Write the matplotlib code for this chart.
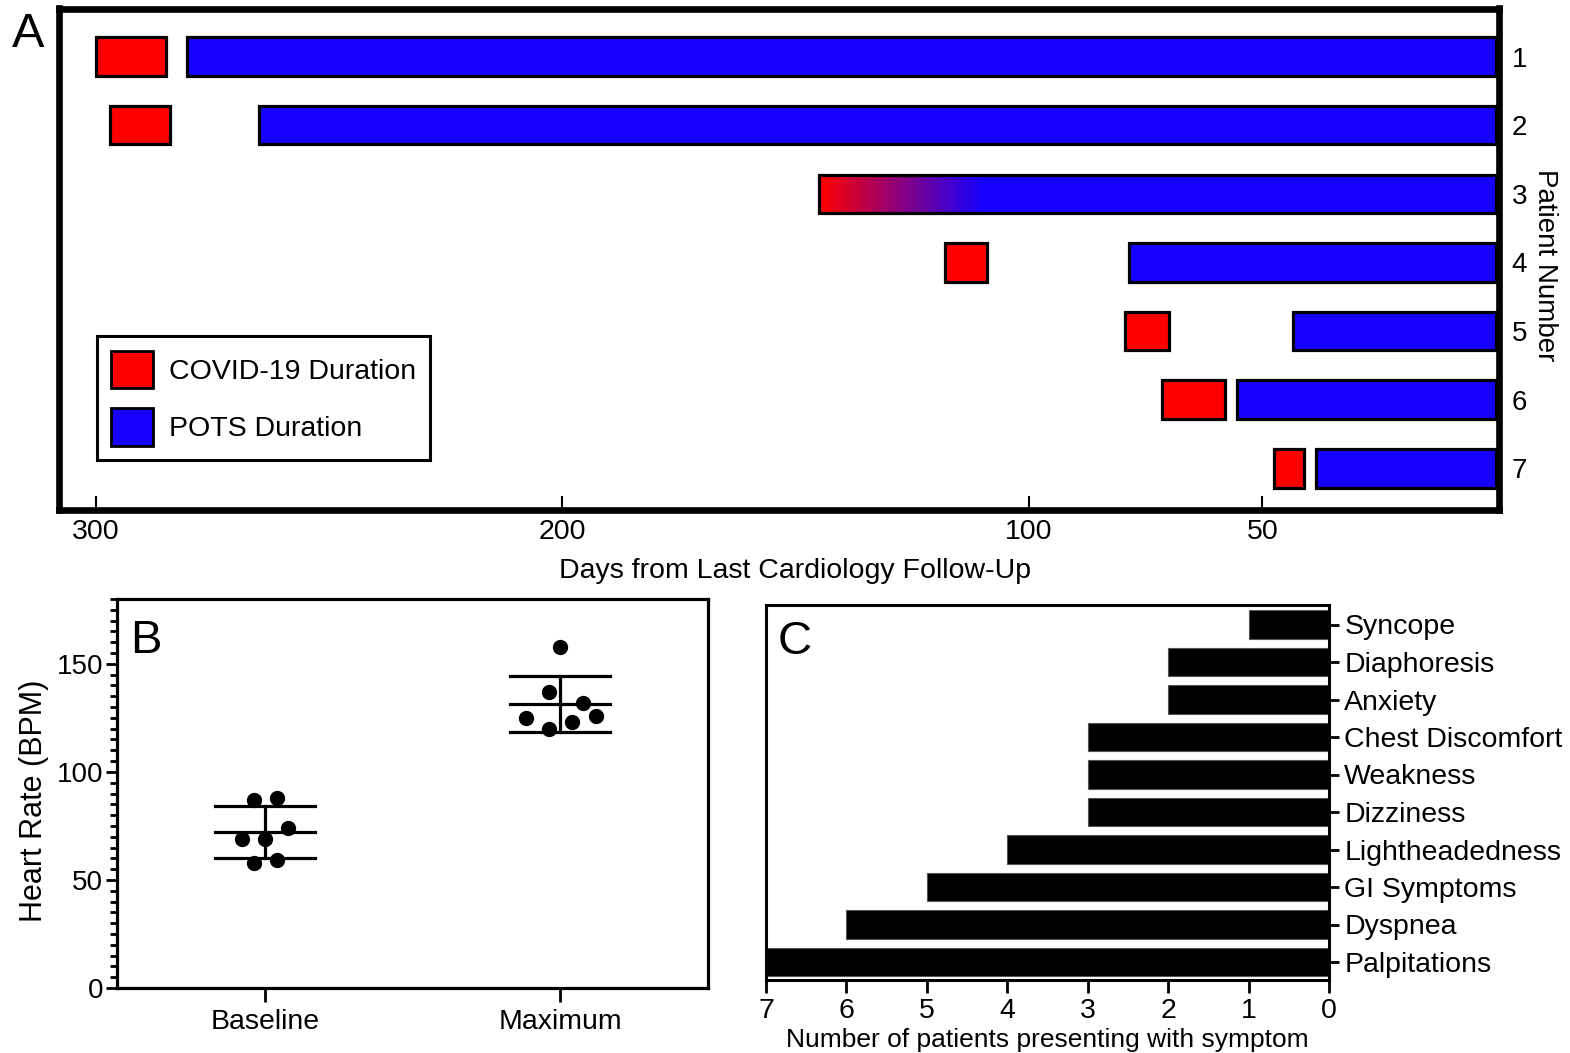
import matplotlib
matplotlib.use('Agg')
import matplotlib.pyplot as plt
import numpy as np
from matplotlib.patches import Patch
from matplotlib.colors import LinearSegmentedColormap

plt.rcParams['font.family'] = ['Liberation Sans', 'DejaVu Sans']

# ---------------- Panel A data ----------------
patients = [1, 2, 3, 4, 5, 6, 7]
covid_start = [300, 297, 145, 118, 79.5, 71.5, 47.5]
covid_end = [285, 284, 110, 109, 70, 58, 41]
pots_start = [280.5, 265, 145, 78.5, 43.5, 55.5, 38.5]
pots_end = [0, 0, 0, 0, 0, 0, 0]
a_ticks = [300, 200, 100, 50]

# ---------------- Panel B data ----------------
groups = ['Baseline', 'Maximum']
baseline = [87, 88, 69, 69, 74, 58, 59]
baseline_jitter = [-0.037, 0.04, -0.077, 0.0, 0.077, -0.037, 0.04]
maximum = [158, 137, 132, 125, 126, 123, 120]
maximum_jitter = [0.0, -0.039, 0.077, -0.116, 0.12, 0.039, -0.039]

# ---------------- Panel C data ----------------
symptoms = ['Syncope', 'Diaphoresis', 'Anxiety', 'Chest Discomfort', 'Weakness',
            'Dizziness', 'Lightheadedness', 'GI Symptoms', 'Dyspnea', 'Palpitations']
counts = [1, 2, 2, 3, 3, 3, 4, 5, 6, 7]

RED = '#FF0000'
BLUE = '#1600FF'

W, H = 1570, 1053
fig = plt.figure(figsize=(W / 100, H / 100), dpi=100)


def ax_rect(l, r, t, b):
    return [l / W, 1 - b / H, (r - l) / W, (b - t) / H]


# ================= Panel A =================
axA = fig.add_axes(ax_rect(58.5, 1499, 8.5, 509.5))
bh = 0.56
for i, p in enumerate(patients):
    if covid_start[i] == pots_start[i]:
        # overlapping: gradient from red to blue
        axA.barh(p, pots_start[i] - pots_end[i], left=pots_end[i], height=bh,
                 color=BLUE, edgecolor='none', zorder=2)
        cmap = LinearSegmentedColormap.from_list('rb', [RED, BLUE])
        grad = np.linspace(0, 1, 256).reshape(1, -1)
        axA.imshow(grad, cmap=cmap, aspect='auto', interpolation='bilinear',
                   extent=(covid_start[i], covid_end[i], p + bh / 2, p - bh / 2), zorder=2.5)
        axA.barh(p, pots_start[i] - pots_end[i], left=pots_end[i], height=bh,
                 facecolor='none', edgecolor='black', linewidth=2.3, zorder=3)
    else:
        axA.barh(p, covid_start[i] - covid_end[i], left=covid_end[i], height=bh,
                 color=RED, edgecolor='black', linewidth=2.3, zorder=3)
        axA.barh(p, pots_start[i] - pots_end[i], left=pots_end[i], height=bh,
                 color=BLUE, edgecolor='black', linewidth=2.3, zorder=3)

axA.set_xlim(308, -0.7)
axA.set_ylim(7.6, 0.3)
axA.set_aspect('auto')
axA.set_xticks(a_ticks)
axA.set_xticklabels([str(t) for t in a_ticks], fontsize=20.5)
axA.tick_params(axis='x', direction='in', length=10, width=1.5, pad=7)
axA.yaxis.tick_right()
axA.set_yticks(patients)
axA.set_yticklabels([str(p) for p in patients], fontsize=20)
axA.tick_params(axis='y', length=0, pad=9)
for s in axA.spines.values():
    s.set_linewidth(4.8)
axA.set_xlabel('Days from Last Cardiology Follow-Up', fontsize=20.5)
axA.xaxis.set_label_coords(0.511, -0.097)
axA.xaxis.label.set_va('top')
axA.text(1.032, 0.488, 'Patient Number', rotation=270, ha='center', va='center',
         fontsize=20, transform=axA.transAxes)

handles = [Patch(facecolor=RED, edgecolor='black', linewidth=2, label='COVID-19 Duration'),
           Patch(facecolor=BLUE, edgecolor='black', linewidth=2, label='POTS Duration')]
leg = axA.legend(handles=handles, loc='lower left', bbox_to_anchor=(0.0267, 0.099),
                 borderaxespad=0, fontsize=20.5, handlelength=1.47, handleheight=1.65,
                 handletextpad=0.55, labelspacing=0.7, borderpad=0.5,
                 fancybox=False, framealpha=1, edgecolor='black')
leg.get_frame().set_linewidth(2.2)

fig.text(12 / W, 1 - 12 / H, 'A', fontsize=35, ha='left', va='top')

# ================= Panel B =================
axB = fig.add_axes(ax_rect(117, 708, 599, 988))
xpos = np.arange(len(groups))
for gi, (vals, jit) in enumerate([(baseline, baseline_jitter), (maximum, maximum_jitter)]):
    vals = np.array(vals, dtype=float)
    m = vals.mean()
    sd = vals.std(ddof=1)
    axB.plot(xpos[gi] + np.array(jit), vals, 'o', color='black', markersize=10, zorder=3)
    hw = 0.17
    for yv in (m - sd, m, m + sd):
        axB.plot([xpos[gi] - hw, xpos[gi] + hw], [yv, yv], color='black', lw=2.3, zorder=2)
    axB.plot([xpos[gi], xpos[gi]], [m - sd, m + sd], color='black', lw=2.3, zorder=2)

axB.set_xlim(-0.5, 1.5)
axB.set_ylim(0, 180)
axB.set_xticks(xpos)
axB.set_xticklabels(groups, fontsize=20.5)
axB.set_yticks([0, 50, 100, 150])
axB.set_yticklabels(['0', '50', '100', '150'], fontsize=20)
axB.set_yticks(np.arange(0, 181, 5), minor=True)
axB.tick_params(axis='y', which='major', direction='out', length=8, width=2, pad=2)
axB.tick_params(axis='y', which='minor', direction='out', length=5, width=2)
axB.tick_params(axis='x', direction='out', length=10, width=2, pad=5)
for s in axB.spines.values():
    s.set_linewidth(2.3)
axB.set_ylabel('Heart Rate (BPM)', fontsize=22)
axB.yaxis.set_label_coords(-0.115, 0.48)
axB.text(0.022, 0.948, 'B', fontsize=34, ha='left', va='top', transform=axB.transAxes)

# ================= Panel C =================
axC = fig.add_axes(ax_rect(766, 1329, 605, 980))
ypos = np.arange(len(symptoms))[::-1]
axC.barh(ypos, counts, left=0, height=0.75, color='black', edgecolor='#555555',
         linewidth=0.8, zorder=2)
axC.set_xlim(7, 0)
axC.set_ylim(-0.48, 9.52)
axC.set_xticks(range(0, 8))
axC.set_xticklabels([str(v) for v in range(0, 8)], fontsize=20.5)
axC.yaxis.tick_right()
axC.set_yticks(ypos)
axC.set_yticklabels(symptoms, fontsize=20.5)
axC.tick_params(axis='y', direction='out', length=7, width=2, pad=4)
axC.tick_params(axis='x', direction='out', length=9, width=2, pad=4)
for s in axC.spines.values():
    s.set_linewidth(2.2)
axC.set_xlabel('Number of patients presenting with symptom', fontsize=19)
axC.xaxis.set_label_coords(0.5, -0.128)
axC.xaxis.label.set_va('top')
axC.text(0.021, 0.96, 'C', fontsize=34, ha='left', va='top', transform=axC.transAxes)

fig.savefig('out.png', dpi=100)
